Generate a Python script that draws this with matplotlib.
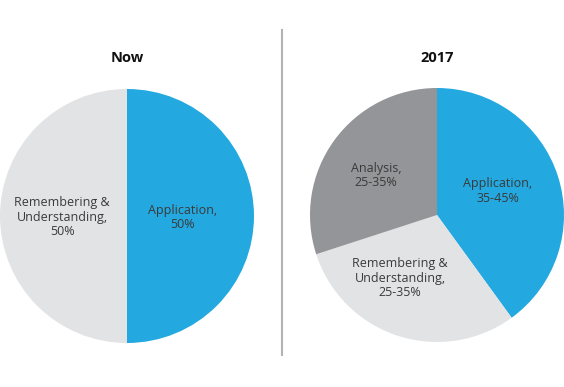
import matplotlib.pyplot as plt
from matplotlib.lines import Line2D

plt.rcParams['font.family'] = ['Open Sans', 'DejaVu Sans']

# data
now_labels = ["Application,\n50%", "Remembering &\nUnderstanding,\n50%"]
now_values = [50, 50]
future_labels = ["Application,\n35-45%", "Remembering &\nUnderstanding,\n25-35%", "Analysis,\n25-35%"]
future_values = [40, 30, 30]
titles = ["Now", "2017"]

blue = "#24a8e0"
light = "#e2e3e5"
dark = "#939598"
now_colors = [blue, light]
future_colors = [blue, light, dark]

# label positions inside each pie (in pie radius units)
now_pos = [(0.44, -0.01), (-0.51, -0.01)]
future_pos = [(0.48, 0.19), (-0.29, -0.5), (-0.48, 0.31)]

W, H = 564, 387
fig = plt.figure(figsize=(W / 100, H / 100), dpi=100)

panels = [
    (127, 216, now_values, now_labels, now_colors, now_pos),
    (437, 215, future_values, future_labels, future_colors, future_pos),
]

for i, (cx, cy, vals, labs, cols, pos) in enumerate(panels):
    r = 127
    ax = fig.add_axes([(cx - r) / W, (H - cy - r) / H, 2 * r / W, 2 * r / H])
    ax.pie(vals, colors=cols, startangle=90, counterclock=False, radius=1,
           wedgeprops=dict(linewidth=0))
    # pie resets the limits, so set them afterwards
    ax.set_xlim(-1, 1)
    ax.set_ylim(-1, 1)
    ax.set_aspect('equal')
    ax.axis('off')
    for (x, y), lab in zip(pos, labs):
        ax.text(x, y, lab, ha='center', va='center', fontsize=9,
                color='#3a3a3a', linespacing=1.15)
    fig.text(cx / W, 1 - 58 / H, titles[i], ha='center', va='center',
             fontsize=10.5, fontweight='bold', color='#111111')

# vertical divider
fig.add_artist(Line2D([282 / W, 282 / W], [1 - 30 / H, 1 - 355 / H],
                      color='#b3b3b3', linewidth=1.5))

fig.savefig("out.png", dpi=100, facecolor='white')
